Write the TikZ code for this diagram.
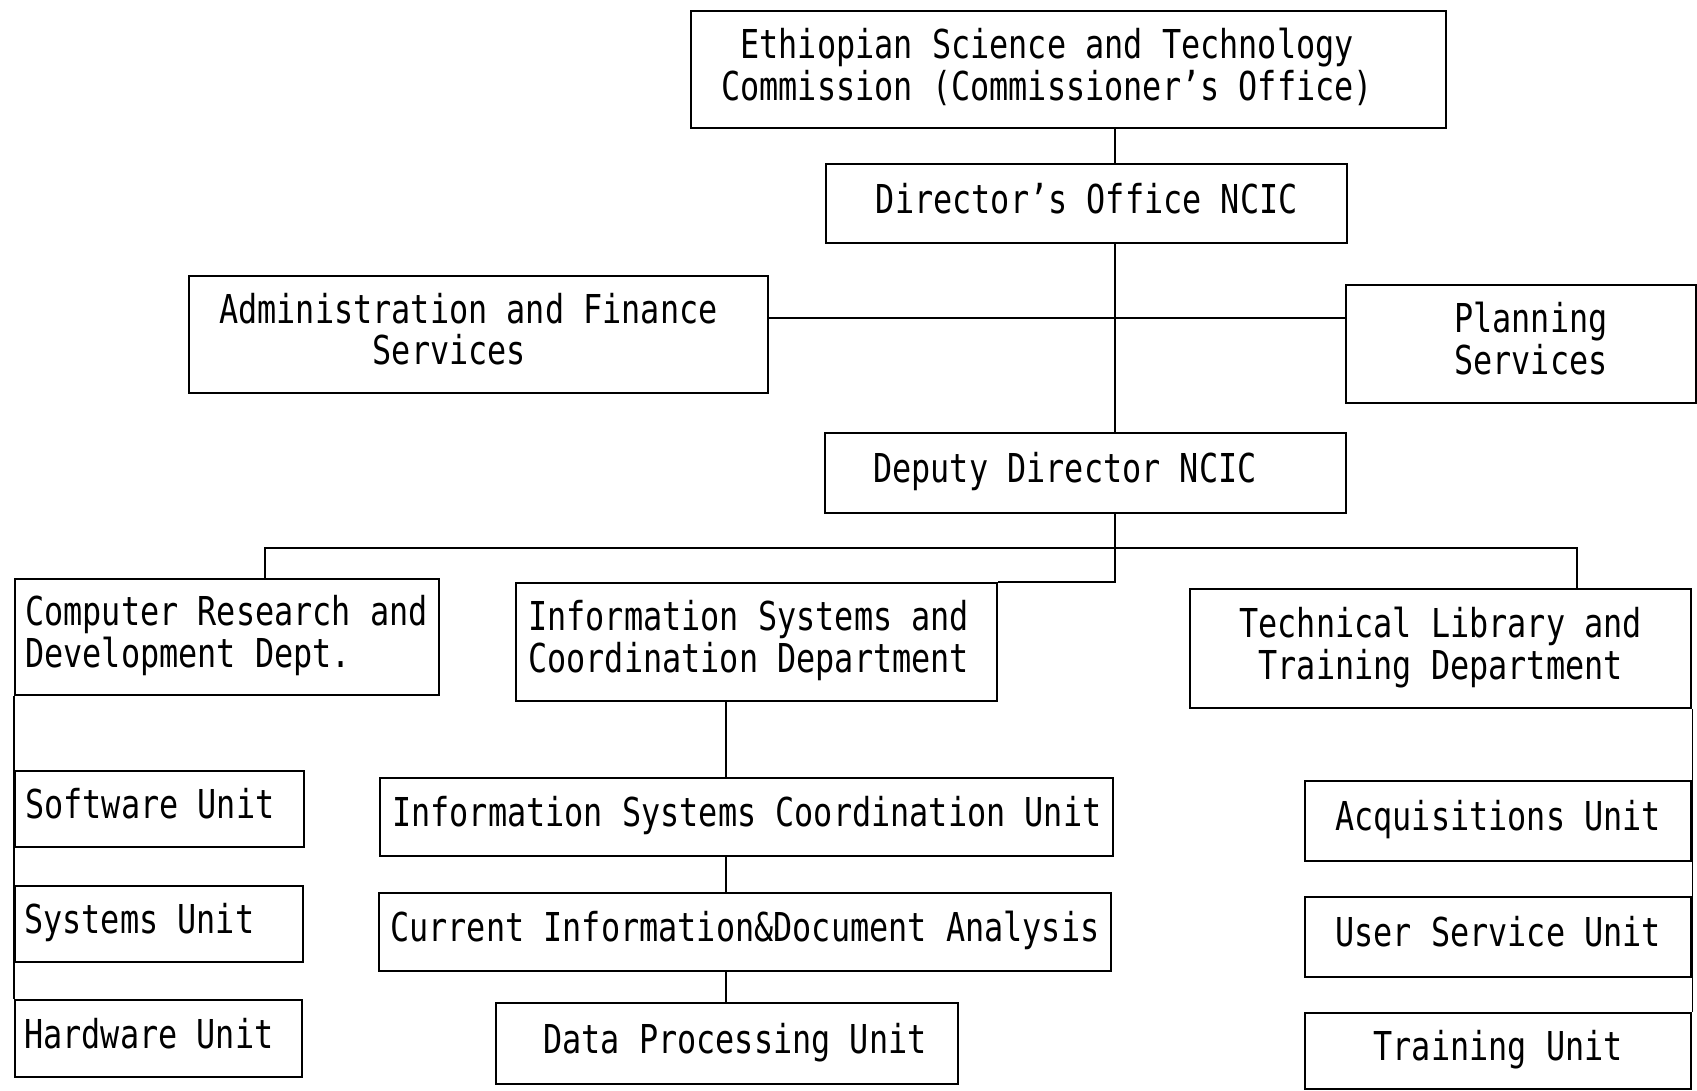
\documentclass[tikz,border=0pt]{standalone}
\usepackage{fontspec}
\newfontfamily\orgfont[FakeStretch=0.8]{DejaVu Sans Mono}
% left-aligned block of lines, padded inside a fixed width
\newcommand\txtl[3]{\makebox[#2pt][l]{\hspace*{#1pt}\begin{tabular}{@{}l@{}}#3\end{tabular}}}
% centred block of lines inside a fixed width
\newcommand\txtc[2]{\makebox[#1pt][c]{\begin{tabular}{@{}c@{}}#2\end{tabular}}}
\tikzset{
  unit/.style={draw, line width=2.4pt, inner sep=0pt, anchor=north west,
    font={\orgfont\fontsize{39.8pt}{38.5pt}\selectfont}},
  link/.style={line width=1.7pt}
}
\begin{document}
\begin{tikzpicture}[x=1pt, y=-1pt]
\useasboundingbox (0,0) rectangle (1697,1090);

% top of the hierarchy
\node[unit, minimum width=755pt, minimum height=117pt] (top) at (690,10)
  {\txtl{30}{755}{\hspace*{19.2pt}Ethiopian Science and Technology\\Commission (Commissioner’s Office)}};
\node[unit, minimum width=521pt, minimum height=79pt] (dir) at (825,163)
  {\txtc{521}{Director’s Office NCIC}};
\node[unit, minimum width=579pt, minimum height=117pt] (adm) at (188,275)
  {\txtl{30}{579}{Administration and Finance\\\hspace*{153.6pt}Services}};
\node[unit, minimum width=350pt, minimum height=118pt] (pln) at (1345,284)
  {\txtl{108}{350}{Planning\\Services}};
\node[unit, minimum width=521pt, minimum height=80pt] (dep) at (824,432)
  {\txtl{48}{521}{Deputy Director NCIC}};

% departments
\node[unit, minimum width=424pt, minimum height=116pt] (crd) at (14,578)
  {\txtl{10}{424}{Computer Research and\\Development Dept.}};
\node[unit, minimum width=481pt, minimum height=118pt] (isd) at (515,582)
  {\txtl{12}{481}{Information Systems and\\Coordination Department}};
\node[unit, minimum width=501pt, minimum height=119pt] (tld) at (1189,588)
  {\txtc{501}{Technical Library and\\Training Department}};

% units of the computer research department
\node[unit, minimum width=289pt, minimum height=76pt] (sw) at (14,770)
  {\txtl{10}{289}{Software Unit}};
\node[unit, minimum width=288pt, minimum height=76pt] (sys) at (14,885)
  {\txtl{9}{288}{Systems Unit}};
\node[unit, minimum width=287pt, minimum height=77pt] (hw) at (14,999)
  {\txtl{9}{287}{Hardware Unit}};

% units of the information systems department
\node[unit, minimum width=733pt, minimum height=78pt] (iscu) at (379,777)
  {\txtl{12}{733}{Information Systems Coordination Unit}};
\node[unit, minimum width=732pt, minimum height=78pt] (cida) at (378,892)
  {\txtl{11}{732}{Current Information\&Document Analysis}};
\node[unit, minimum width=462pt, minimum height=81pt] (dpu) at (495,1002)
  {\txtl{47}{462}{Data Processing Unit}};

% units of the technical library
\node[unit, minimum width=386pt, minimum height=80pt] (acq) at (1304,780)
  {\txtc{386}{Acquisitions Unit}};
\node[unit, minimum width=386pt, minimum height=80pt] (usu) at (1304,896)
  {\txtc{386}{User Service Unit}};
\node[unit, minimum width=386pt, minimum height=76pt] (tu) at (1304,1012)
  {\txtc{386}{Training Unit}};

% routing guides
\coordinate (spine) at (1115,0);
\coordinate (hl) at (0,318);
\coordinate (busL) at (265,548);
\coordinate (busR) at (1577,548);
\coordinate (mid) at (726,0);

% connectors
\draw[link] (top.south -| spine) -- (dir.north -| spine);
\draw[link] (dir.south -| spine) -- (dep.north -| spine);
\draw[link] (adm.east |- hl) -- (pln.west |- hl);
\draw[link] (dep.south -| spine) |- (isd.north east);
\draw[link] (crd.north -| busL) -- (busL) -- (busR) -- (tld.north -| busR);
\draw[link] (crd.south west) -- (hw.north west);
\draw[link] (tld.south east) -- (tu.north east);
\draw[link] (isd.south -| mid) -- (iscu.north -| mid);
\draw[link] (iscu.south -| mid) -- (cida.north -| mid);
\draw[link] (cida.south -| mid) -- (dpu.north -| mid);
\end{tikzpicture}
\end{document}
